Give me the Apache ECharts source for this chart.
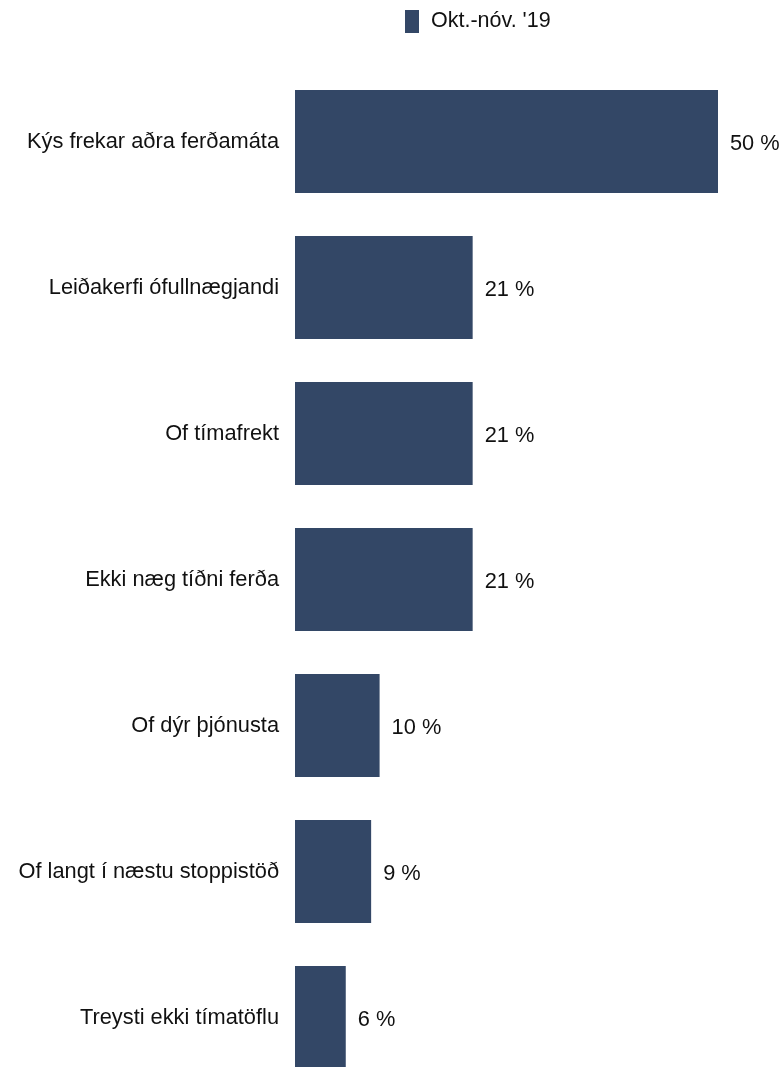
<!DOCTYPE html>
<html><head><meta charset="utf-8">
<script src="https://cdn.jsdelivr.net/npm/echarts@6/dist/echarts.min.js"></script>
<style>html,body{margin:0;padding:0;background:#fff;overflow:hidden}#c{width:784px;height:1100px}</style>
</head><body><div id="c"></div>
<script>
const categories = ["Kýs frekar aðra ferðamáta","Leiðakerfi ófullnægjandi","Of tímafrekt","Ekki næg tíðni ferða","Of dýr þjónusta","Of langt í næstu stoppistöð","Treysti ekki tímatöflu"];
const values = [50,21,21,21,10,9,6];
const seriesName = "Okt.-nóv. '19";
const chart = echarts.init(document.getElementById('c'));
chart.setOption({
  animation:false,
  textStyle:{fontFamily:'Liberation Sans, Arial, sans-serif'},
  legend:{show:true,top:5,left:400,itemWidth:14,itemHeight:23,itemGap:10,icon:'rect',
    textStyle:{fontSize:21.5,color:'#111',fontFamily:'Liberation Sans',padding:[3,0,0,7]},data:[seriesName]},
  grid:{left:295,top:68.5,width:423,height:1022,containLabel:false,outerBoundsMode:'none'},
  xAxis:{type:'value',min:0,max:50,show:false},
  yAxis:{type:'category',data:categories,inverse:true,
    axisLine:{show:false},axisTick:{show:false},
    axisLabel:{fontSize:21.8,color:'#111',margin:16,fontFamily:'Liberation Sans',padding:[4,0,0,0]}},
  series:[{name:seriesName,type:'bar',data:values,barCategoryGap:'29.5%',
    itemStyle:{color:'#334766'},
    label:{show:true,position:'right',distance:12,fontSize:21.8,color:'#111',offset:[0,2],
      fontFamily:'Liberation Sans',formatter:p=>p.value+' %'}}]
});
</script></body></html>
